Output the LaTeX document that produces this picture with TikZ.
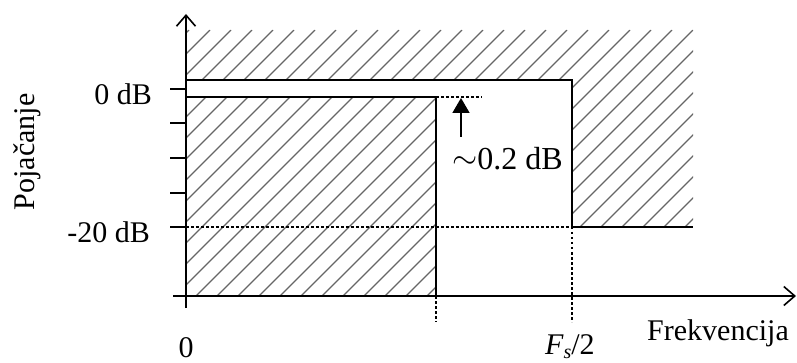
\documentclass[tikz,border=0pt]{standalone}
\usepackage{fontspec}
\setmainfont{Liberation Serif}
\usetikzlibrary{arrows.meta}
\begin{document}
\begin{tikzpicture}[x=1pt,y=-1pt,
 txt/.style={inner sep=0pt, font=\fontsize{30}{34}\selectfont},
 bigtxt/.style={inner sep=0pt, font=\fontsize{32}{36}\selectfont},
 edge/.style={line width=1.6pt},
 dotline/.style={line width=1.4pt, dash pattern=on 2.5pt off 2.5pt},
 hatchline/.style={line width=1.3pt, draw=black!60},
 axis/.style={line width=1.8pt, -{Straight Barb[length=11pt,width=19pt,line width=1.6pt]}},
 markarrow/.style={line width=1.6pt, -{Triangle[length=15pt,width=17pt]}},
]
\useasboundingbox (0,0) rectangle (797,363);
% hatching of the upper stop region
\begin{scope}
\clip (186,30) -- (693,30) -- (693,227) -- (572,227) -- (572,80) -- (186,80) -- cycle;
\foreach \i in {-300,-279,...,800} \draw[hatchline] (\i,330) -- (\i+300,30);
\end{scope}
% hatching of the lower region
\begin{scope}
\clip (186,97) rectangle (436,296);
\foreach \i in {-300,-279,...,500} \draw[hatchline] (\i,330) -- (\i+300,30);
\end{scope}
% axes
\coordinate (ytop) at (186,14);
\coordinate (ybot) at (186,308);
\coordinate (xl) at (173,296);
\coordinate (xr) at (796,296);
\draw[axis] (ybot) -- (ytop);
\draw[axis] (xl) -- (xr);
\foreach \y in {89,123,158,193,227} \draw[edge] (170,\y) -- (186,\y);
% dotted guides
\draw[dotline] (436,97) -- (482,97);
\draw[dotline] (186,227) -- (572,227);
\draw[dotline] (436,296) -- (436,322);
\draw[dotline] (572,227) -- (572,322);
% boundaries
\draw[edge] (186,80) -- (572,80) -- (572,227) -- (693,227);
\draw[edge] (186,97) -- (436,97) -- (436,296);
% marker arrow
\coordinate (mA) at (461,137);
\coordinate (mB) at (461,98);
\draw[markarrow] (mA) -- (mB);
% labels
\node[txt, anchor=east] (l0) at (152,94) {0 dB};
\node[txt, anchor=east] (l20) at (150,232) {-20 dB};
\node[txt, rotate=90] (yl) at (27,152) {Pojačanje};
\node[txt, anchor=base west] (xlab) at (647,340) {Frekvencija};
\node[txt, anchor=base] (zero) at (186,357) {0};
\node[txt, anchor=base west] (fs) at (545,354) {\itshape F\raisebox{-0.15em}{\fontsize{20}{20}\selectfont s}\upshape/2};
\node[bigtxt, anchor=west] (db) at (452,159) {\raisebox{0.05em}{\scalebox{1.3}{$\sim$}}0.2 dB};
\end{tikzpicture}
\end{document}
